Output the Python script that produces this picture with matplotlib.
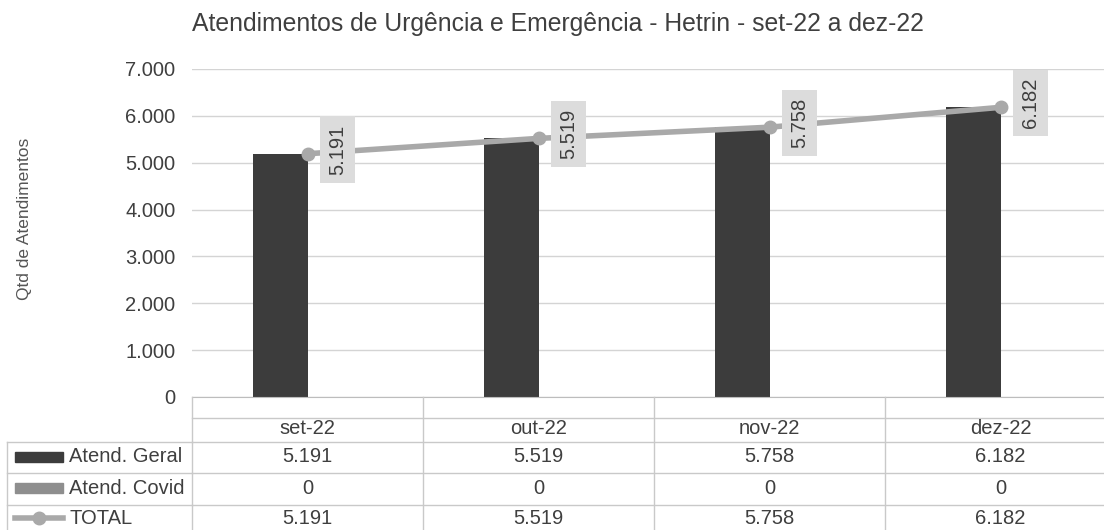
import numpy as np
import matplotlib
matplotlib.use('Agg')
import matplotlib.pyplot as plt
from matplotlib.patches import Rectangle
from matplotlib.lines import Line2D
import matplotlib.transforms as mtransforms

# ---- data ----
categories = ['set-22', 'out-22', 'nov-22', 'dez-22']
geral = [5191, 5519, 5758, 6182]
covid = [0, 0, 0, 0]
total = [5191, 5519, 5758, 6182]
yticks = [0, 1000, 2000, 3000, 4000, 5000, 6000, 7000]
series_names = ['Atend. Geral', 'Atend. Covid', 'TOTAL']
title = 'Atendimentos de Urgência e Emergência - Hetrin - set-22 a dez-22'
ylabel = 'Qtd de Atendimentos'


def fmt(v):
    return f"{v:,}".replace(',', '.')


plt.rcParams['font.family'] = ['Liberation Sans', 'DejaVu Sans']
W, H = 1104, 530
TXT = '#3f3f3f'
C_GERAL = '#3c3c3c'
C_COVID = '#8e8e8e'
C_TOTAL = '#a9a9a9'
GRID = '#d4d4d4'
FS = 14.5

fig = plt.figure(figsize=(W / 100, H / 100), dpi=100)


def fx(px):
    return px / W


def fy(py):
    return 1 - py / H


ax = fig.add_axes([fx(192), fy(397), (1116 - 192) / W, (397 - 69) / H])
x = np.arange(len(categories))
bw = 0.234
ax.bar(x - bw / 2, geral, bw, color=C_GERAL, zorder=2)
ax.bar(x + bw / 2, covid, bw, color=C_COVID, zorder=2)
ax.plot(x, total, color=C_TOTAL, lw=4, marker='o', ms=9, zorder=3)
ax.set_xlim(-0.5, len(categories) - 0.5)
ax.set_ylim(0, 7000)
ax.set_yticks(yticks)
ax.set_yticklabels([fmt(v) for v in yticks])
ax.set_xticks([])
ax.grid(axis='y', color=GRID, lw=1, zorder=0)
for s in ['top', 'right', 'left']:
    ax.spines[s].set_visible(False)
ax.spines['bottom'].set_color('#bdbdbd')
ax.tick_params(axis='y', length=0, labelsize=FS, colors=TXT, pad=12)

for xi, v in zip(x, total):
    ax.annotate(fmt(v), (xi, v), xytext=(21.5, 3), textcoords='offset points',
                rotation=90, ha='center', va='center', fontsize=FS, color=TXT,
                bbox=dict(boxstyle='square,pad=0.4', fc='#dcdcdc', ec='none'),
                zorder=4, annotation_clip=False)

fig.text(fx(192), fy(24), title, fontsize=17.8, color=TXT, ha='left', va='center')
fig.text(fx(25), fy(219), ylabel, fontsize=12.5, color='#555555', rotation=90,
         ha='center', va='center')

# ---- data table ----
bt = mtransforms.blended_transform_factory(ax.transData, fig.transFigure)
LC = '#c9c9c9'
right = len(categories) - 0.5 + 0.2


def hline_data(x0, x1, py):
    fig.add_artist(Line2D([x0, x1], [fy(py), fy(py)], transform=bt, color=LC, lw=1))


def hline_px(x0, x1, py):
    fig.add_artist(Line2D([fx(x0), fx(x1)], [fy(py), fy(py)], transform=fig.transFigure, color=LC, lw=1))


row_lines = [418, 442, 473, 505]
hline_data(-0.5, right, row_lines[0])
for py in row_lines[1:]:
    hline_px(7, 192, py)
    hline_data(-0.5, right, py)
for b in np.arange(-0.5, len(categories) - 0.5, 1.0):
    fig.add_artist(Line2D([b, b], [fy(397), 0], transform=bt, color=LC, lw=1))
fig.add_artist(Line2D([fx(7), fx(7)], [fy(442), 0], transform=fig.transFigure, color=LC, lw=1))

row_y = [429, 457, 488, 518]
for xi, c in zip(x, categories):
    fig.text(xi, fy(row_y[0]), c, transform=bt, ha='center', va='center', fontsize=FS, color=TXT)
for ri, vals in enumerate([geral, covid, total]):
    for xi, v in zip(x, vals):
        fig.text(xi, fy(row_y[ri + 1]), fmt(v), transform=bt, ha='center', va='center',
                 fontsize=FS, color=TXT)
    fig.text(fx(69), fy(row_y[ri + 1]), series_names[ri], ha='left', va='center',
             fontsize=FS, color=TXT)

# legend keys
for ri, col in enumerate([C_GERAL, C_COVID]):
    cy = row_y[ri + 1]
    fig.add_artist(Rectangle((fx(15), fy(cy + 5)), (63 - 15) / W, 10 / H,
                             transform=fig.transFigure, color=col))
cy = row_y[3]
fig.add_artist(Line2D([fx(15), fx(63)], [fy(cy), fy(cy)], transform=fig.transFigure,
                      color=C_TOTAL, lw=4))
fig.add_artist(Line2D([fx(39)], [fy(cy)], transform=fig.transFigure, color=C_TOTAL,
                      marker='o', ms=9, lw=0))

fig.savefig('out.png', dpi=100)
